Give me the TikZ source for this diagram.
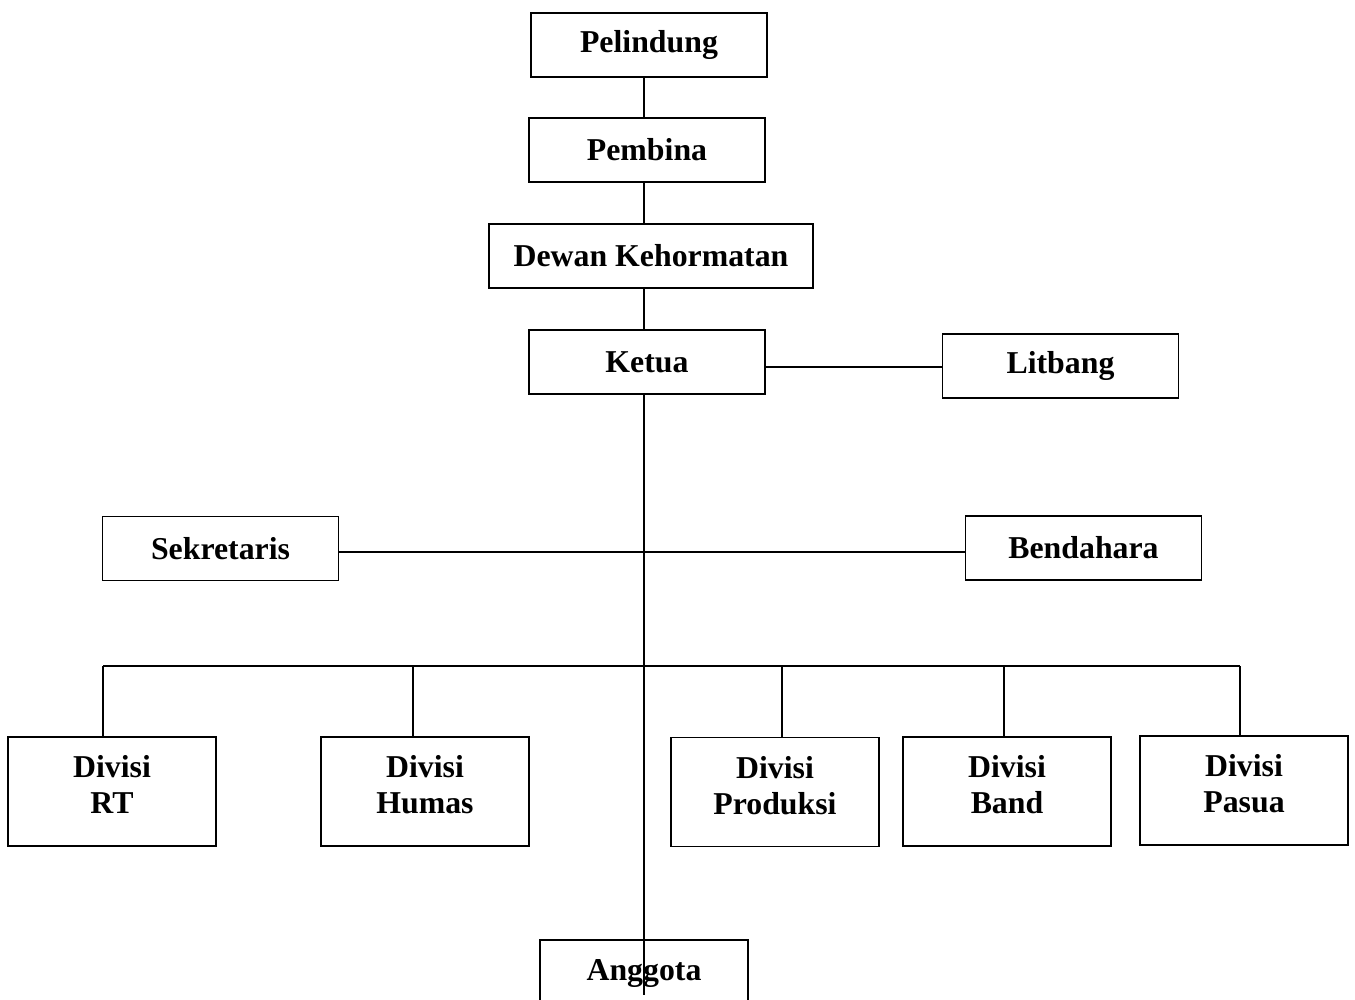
\documentclass[tikz,border=0pt]{standalone}
\usepackage{fontspec}
\setmainfont{Liberation Serif}

\tikzset{
  kotak/.style={draw, line width=0.7pt, inner sep=0pt, align=center,
    minimum width=4.72cm, minimum height=1.28cm,
    font=\fontsize{18.1}{20.5}\selectfont\bfseries},
  divisi/.style={kotak, minimum width=4.16cm, minimum height=2.18cm, text depth=8pt},
  garis/.style={line width=1pt}
}

\begin{document}
\begin{tikzpicture}[x=0.2mm, y=-0.2mm]
\useasboundingbox (0,0) rectangle (1355,1000);
% kotak atas
\node[kotak] (pelindung) at (649,45) {Pelindung};
\node[kotak] (pembina) at (647,150) {Pembina};
\node[kotak, minimum width=6.48cm] (dewan) at (651,256) {Dewan Kehormatan};
\node[kotak] (ketua) at (647,362) {Ketua};
\node[kotak] (litbang) at (1060.5,366) {Litbang};
\node[kotak] (sekretaris) at (220.5,548.5) {Sekretaris};
\node[kotak] (bendahara) at (1083.5,548) {Bendahara};
% divisi
\node[divisi] (rt) at (112,791.5) {Divisi\\RT};
\node[divisi] (humas) at (425,791.5) {Divisi\\Humas};
\node[divisi] (produksi) at (775,792) {Divisi\\Produksi};
\node[divisi] (band) at (1007,791.5) {Divisi\\Band};
\node[divisi] (pasua) at (1244,790.5) {Divisi\\Pasua};
\node[kotak, minimum width=4.16cm, minimum height=1.6cm] (anggota) at (644,980) {\raisebox{0.39cm}{Anggota}};
% garis
\coordinate (tulang) at (644,0);
\coordinate (ujung) at (644,995);
\draw[garis] (tulang |- pelindung.south) -- (tulang |- pembina.north);
\draw[garis] (tulang |- pembina.south) -- (tulang |- dewan.north);
\draw[garis] (tulang |- dewan.south) -- (tulang |- ketua.north);
\draw[garis] (tulang |- ketua.south) -- (ujung);
\draw[garis] (ketua.east |- 0,367) -- (litbang.west |- 0,367);
\draw[garis] (sekretaris.east |- 0,552) -- (bendahara.west |- 0,552);
\draw[garis] (103,666) -- (1240,666);
\foreach \n/\dx in {rt/103,humas/413,produksi/782,band/1004,pasua/1240}
  \draw[garis] (\dx,666) -- (\dx,0 |- \n.north);
\end{tikzpicture}
\end{document}
